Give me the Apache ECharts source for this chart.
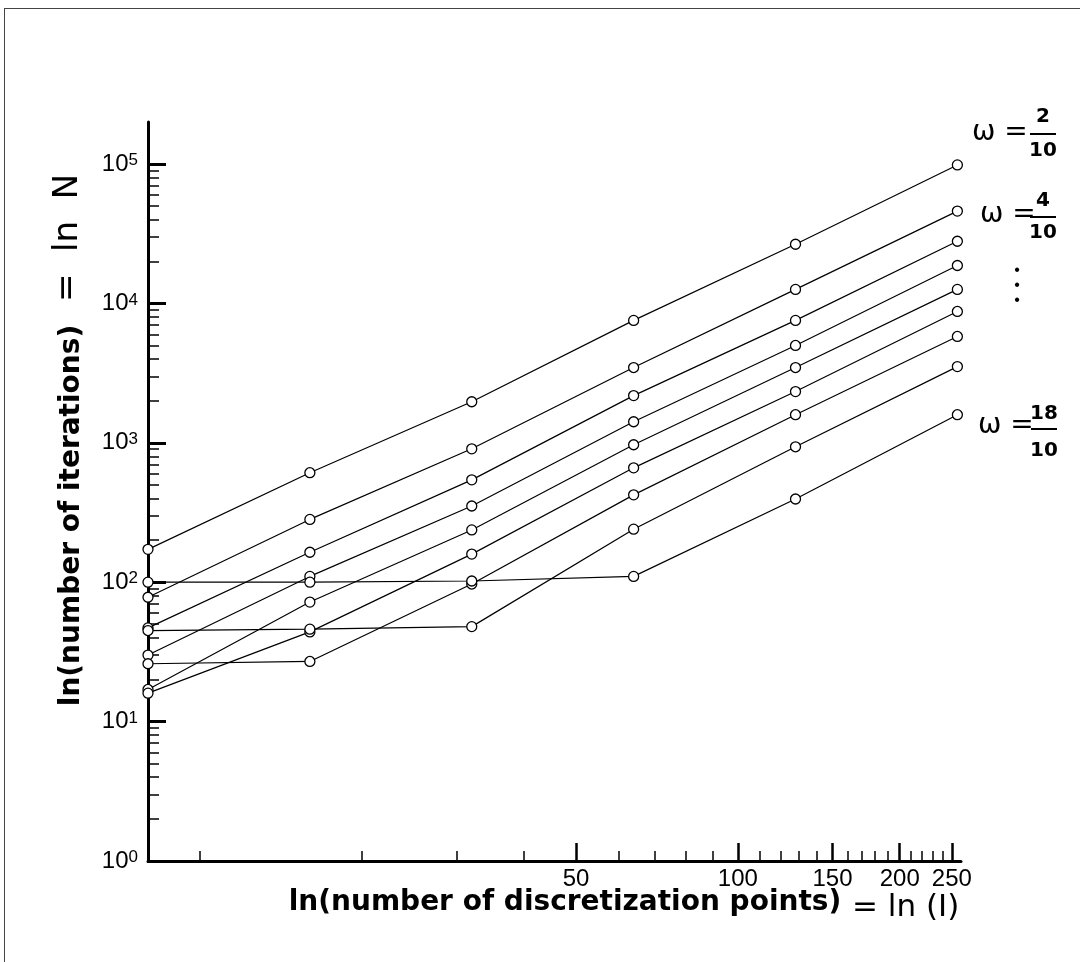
<!DOCTYPE html>
<html>
<head>
<meta charset="utf-8">
<script src="https://cdn.jsdelivr.net/npm/echarts@6/dist/echarts.min.js"></script>
<style>
html, body { margin: 0; padding: 0; background: #fff; }
#chart { width: 1080px; height: 962px; }
</style>
</head>
<body>
<div id="chart"></div>
<script>
// ---- data ----
const gridPoints = [8, 16, 32, 64, 128, 256];
const omegaLabels = ['ω = 2/10', 'ω = 4/10', 'ω = 6/10', 'ω = 8/10', 'ω = 10/10', 'ω = 12/10', 'ω = 14/10', 'ω = 16/10', 'ω = 18/10'];
const iterW02 = [172, 610, 1970, 7550, 26560, 98400];
const iterW04 = [78, 282, 905, 3465, 12600, 45900];
const iterW06 = [47, 164, 542, 2180, 7550, 27900];
const iterW08 = [30, 110, 352, 1415, 4990, 18700];
const iterW10 = [17, 72, 237, 968, 3465, 12600];
const iterW12 = [16, 44, 159, 661, 2330, 8750];
const iterW14 = [26, 27, 97, 423, 1590, 5790];
const iterW16 = [45, 46, 48, 240, 936, 3520];
const iterW18 = [100, 100, 102, 110, 395, 1590];
const allSeries = [iterW02, iterW04, iterW06, iterW08, iterW10, iterW12, iterW14, iterW16, iterW18];

const xRange = [8, 260];
const yRange = [1, 200000];
const xMajorTicks = [50, 100, 150, 200, 250];
const xMinorTicks = [10, 20, 30, 40, 60, 70, 80, 90, 110, 120, 130, 140, 160, 170, 180, 190, 210, 220, 230, 240];
const yMajorTicks = [1, 10, 100, 1000, 10000, 100000];
const yMinorTicks = [2, 3, 4, 5, 6, 7, 8, 9,
  20, 30, 40, 50, 60, 70, 80, 90,
  200, 300, 400, 500, 600, 700, 800, 900,
  2000, 3000, 4000, 5000, 6000, 7000, 8000, 9000,
  20000, 30000, 40000, 50000, 60000, 70000, 80000, 90000];

const FONT = '"Liberation Sans", Arial, Helvetica, sans-serif';
const TITLE_FONT = '"DejaVu Sans", "Liberation Sans", sans-serif';
const HAND = '"DejaVu Sans", "Liberation Sans", sans-serif';
const lg = v => Math.log10(v);

const chart = echarts.init(document.getElementById('chart'), null, { renderer: 'canvas' });

const series = allSeries.map((vals, k) => ({
  name: omegaLabels[k],
  type: 'line',
  xAxisIndex: 0,
  yAxisIndex: 0,
  data: gridPoints.map((x, i) => [x, vals[i]]),
  symbol: 'circle',
  symbolSize: 10,
  showAllSymbol: true,
  lineStyle: { color: '#000', width: 1.2 },
  itemStyle: { color: '#fff', borderColor: '#000', borderWidth: 1.3 },
  emphasis: { disabled: true },
  z: 3
}));

function handText(x, y, text, size, extra) {
  return Object.assign({
    type: 'text', x: x, y: y, z: 10,
    style: { text: text, font: 'normal ' + size + 'px ' + HAND, fill: '#000',
      align: 'left', verticalAlign: 'middle', textAlign: 'left', textVerticalAlign: 'middle' }
  }, extra || {});
}
function fraction(cx, num, numY, barY, den, denY) {
  return [
    { type: 'text', x: cx, y: numY, z: 10, style: { text: num, font: 'bold 20px ' + HAND, fill: '#000', align: 'center', verticalAlign: 'middle', textAlign: 'center', textVerticalAlign: 'middle' } },
    { type: 'line', z: 10, shape: { x1: cx - 13, y1: barY, x2: cx + 13, y2: barY }, style: { stroke: '#000', lineWidth: 2 } },
    { type: 'text', x: cx, y: denY, z: 10, style: { text: den, font: 'bold 20px ' + HAND, fill: '#000', align: 'center', verticalAlign: 'middle', textAlign: 'center', textVerticalAlign: 'middle' } }
  ];
}

const graphics = [
  // page frame
  { type: 'line', shape: { x1: 4, y1: 8.5, x2: 1080, y2: 8.5 }, style: { stroke: '#444', lineWidth: 1 } },
  { type: 'line', shape: { x1: 4.5, y1: 8, x2: 4.5, y2: 962 }, style: { stroke: '#444', lineWidth: 1 } },
  // handwritten annotations
  handText(972, 133, 'ω =', 28),
  ...fraction(1043, '2', 117, 134, '10', 151),
  handText(980, 215, 'ω =', 28),
  ...fraction(1043, '4', 201, 217, '10', 233),
  { type: 'text', x: 1017, y: 286, z: 10, style: { text: '•\n•\n•', font: 'normal 16px ' + FONT, lineHeight: 15, fill: '#000', align: 'center', verticalAlign: 'middle', textAlign: 'center', textVerticalAlign: 'middle' } },
  handText(978, 426, 'ω =', 28),
  ...fraction(1044, '18', 414, 429, '10', 451),
  handText(852, 908, '= ln (I)', 31),
  { type: 'text', x: 68, y: 238, rotation: Math.PI / 2, z: 10,
    style: { text: '=  ln  N', font: 'normal 34px ' + HAND, fill: '#000', align: 'center', verticalAlign: 'middle', textAlign: 'center', textVerticalAlign: 'middle' } }
];

const option = {
  animation: false,
  backgroundColor: '#fff',
  grid: { left: 148, right: 119, top: 122, bottom: 101, containLabel: false, outerBoundsMode: 'none' },
  xAxis: [
    { // data axis (log)
      type: 'log', logBase: 10, min: xRange[0], max: xRange[1], position: 'bottom',
      axisLine: { show: true, onZero: false, lineStyle: { color: '#000', width: 3 } },
      axisTick: { show: false }, axisLabel: { show: false }, splitLine: { show: false }, minorTick: { show: false },
      name: 'ln(number of discretization points)', nameLocation: 'middle', nameGap: 28,
      nameTextStyle: { fontFamily: TITLE_FONT, fontWeight: 'bold', fontSize: 28, color: '#000', padding: [0, 0, 0, 21] }
    },
    { // major ticks + labels
      type: 'value', min: lg(xRange[0]), max: lg(xRange[1]), position: 'bottom',
      axisLine: { show: false, onZero: false },
      axisTick: { show: true, inside: true, length: 18, customValues: xMajorTicks.map(lg), lineStyle: { color: '#000', width: 2.5 } },
      axisLabel: { show: true, customValues: xMajorTicks.map(lg), margin: 6, fontFamily: FONT, fontSize: 24, color: '#000',
        formatter: v => String(Math.round(Math.pow(10, v))) },
      splitLine: { show: false }
    },
    { // minor ticks
      type: 'value', min: lg(xRange[0]), max: lg(xRange[1]), position: 'bottom',
      axisLine: { show: false, onZero: false },
      axisTick: { show: true, inside: true, length: 10, customValues: xMinorTicks.map(lg), lineStyle: { color: '#000', width: 1.5 } },
      axisLabel: { show: false }, splitLine: { show: false }
    }
  ],
  yAxis: [
    {
      type: 'log', logBase: 10, min: yRange[0], max: yRange[1], position: 'left',
      axisLine: { show: true, onZero: false, lineStyle: { color: '#000', width: 3 } },
      axisTick: { show: false }, axisLabel: { show: false }, splitLine: { show: false }, minorTick: { show: false },
      name: 'ln(number of iterations)', nameLocation: 'middle', nameGap: 62, nameRotate: 90,
      nameTextStyle: { fontFamily: TITLE_FONT, fontWeight: 'bold', fontSize: 28, color: '#000', padding: [0, 48, 0, 0] }
    },
    {
      type: 'value', min: lg(yRange[0]), max: lg(yRange[1]), position: 'left',
      axisLine: { show: false, onZero: false },
      axisTick: { show: true, inside: true, length: 18, customValues: yMajorTicks.map(lg), lineStyle: { color: '#000', width: 3 } },
      axisLabel: { show: true, customValues: yMajorTicks.map(lg), margin: 10,
        formatter: v => '{b|10}{s|' + Math.round(v) + '}',
        rich: {
          b: { fontFamily: FONT, fontSize: 24, color: '#000' },
          s: { fontFamily: FONT, fontSize: 17, color: '#000', verticalAlign: 'top' }
        } },
      splitLine: { show: false }
    },
    {
      type: 'value', min: lg(yRange[0]), max: lg(yRange[1]), position: 'left',
      axisLine: { show: false, onZero: false },
      axisTick: { show: true, inside: true, length: 11, customValues: yMinorTicks.map(lg), lineStyle: { color: '#000', width: 1.5 } },
      axisLabel: { show: false }, splitLine: { show: false }
    }
  ],
  series: series,
  graphic: graphics
};

chart.setOption(option);
</script>
</body>
</html>
